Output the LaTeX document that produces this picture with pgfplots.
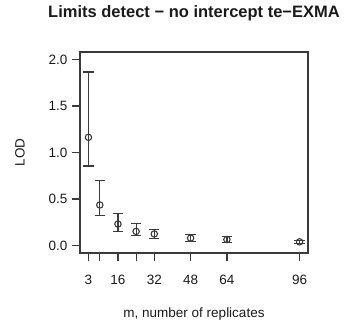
\documentclass[border=0pt]{standalone}
\usepackage{fontspec}
\setmainfont{Liberation Sans}
\usepackage{pgfplots}
\pgfplotsset{compat=1.18}
\definecolor{axgray}{HTML}{3A3A3A}
\definecolor{txt}{HTML}{1A1A1A}
\begin{document}
\begin{tikzpicture}
\useasboundingbox (-80pt,-70pt) rectangle (264pt,253pt);
\begin{axis}[
  at={(0pt,0pt)}, anchor=south west,
  scale only axis, width=228pt, height=201pt,
  xmin=-0.72, xmax=99.72, ymin=-0.08, ymax=2.08,
  axis line style={axgray, line width=1.2pt},
  every tick/.style={axgray, line width=1.2pt},
  tick align=outside, major tick length=8pt,
  xtick pos=bottom, ytick pos=left,
  xtick={3,8,16,24,32,48,64,96},
  xticklabels={3,,16,,32,48,64,96},
  ytick={0,0.5,1,1.5,2},
  yticklabels={0.0,0.5,1.0,1.5,2.0},
  /pgf/number format/assume math mode=true,
  ticklabel style={font=\fontsize{13.5}{16}\selectfont, text=txt},
  xticklabel style={anchor=base, yshift=-23pt},
  yticklabel style={anchor=east, xshift=-1pt},
  label style={font=\fontsize{13.5}{16}\selectfont, text=txt},
  xlabel={m, number of replicates},
  xlabel style={at={(axis description cs:0.5,-0.323)}, anchor=base},
  ylabel={LOD},
  ylabel style={at={(axis description cs:-0.263,0.5)}, anchor=center},
  title={Limits detect − no intercept te−EXMA},
  title style={at={(axis description cs:0.5,1.144)}, anchor=base, font=\fontsize{16.5}{19}\bfseries, text=txt},
]
\addplot[axgray, line width=1.1pt, only marks, mark=o, mark size=3.2pt,
  error bars/.cd, y dir=both, y explicit,
  error bar style={axgray, line width=1.2pt},
  error mark options={axgray, line width=1.2pt, mark size=5.2pt, rotate=90}]
  table[x=x, y=y, y error plus=ep, y error minus=em] {
x  y     ep    em
3  1.163 0.702 0.309
8  0.436 0.259 0.109
16 0.231 0.117 0.079
24 0.152 0.082 0.046
32 0.125 0.045 0.045
48 0.080 0.035 0.035
64 0.065 0.030 0.030
96 0.040 0.018 0.018
};
\end{axis}
\end{tikzpicture}
\end{document}
